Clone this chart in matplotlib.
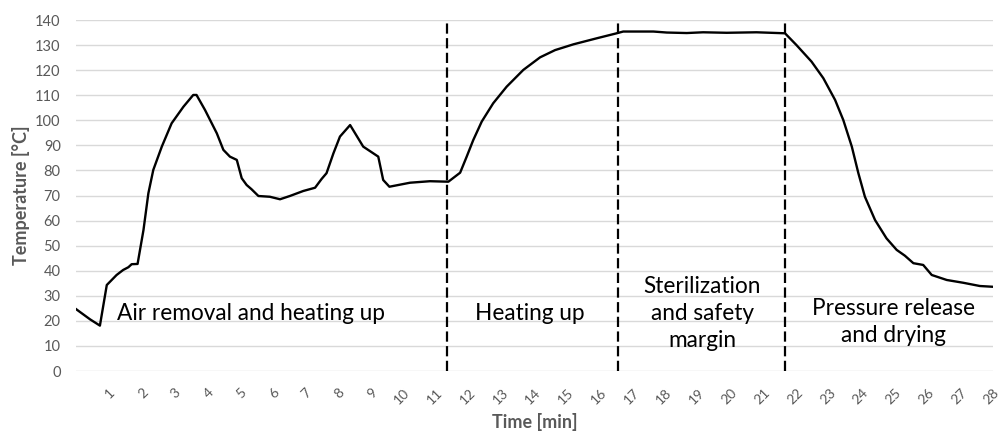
import matplotlib
matplotlib.use("Agg")
import matplotlib.pyplot as plt

plt.rcParams['font.family'] = ['Lato', 'DejaVu Sans']

time_min = [0.0, 0.43, 0.73, 0.94, 1.24, 1.44, 1.60, 1.70, 1.88, 2.06, 2.21, 2.36, 2.62,
            2.92, 3.28, 3.58, 3.68, 3.94, 4.30, 4.50, 4.70, 4.91, 5.06, 5.21, 5.36, 5.57,
            5.92, 6.23, 6.53, 6.94, 7.30, 7.50, 7.65, 7.86, 8.06, 8.37, 8.77, 9.23, 9.38,
            9.57, 10.20, 10.81, 11.37, 11.73, 11.93, 12.13, 12.39, 12.74, 13.15, 13.66,
            14.17, 14.63, 15.19, 15.90, 16.51, 16.71, 17.63, 18.04, 18.65, 19.15, 19.87,
            20.78, 21.65, 22.0, 22.46, 22.82, 23.18, 23.43, 23.69, 23.89, 24.09, 24.40,
            24.75, 25.06, 25.31, 25.57, 25.87, 26.13, 26.59, 27.09, 27.6, 27.99]
temperature = [24.7, 20.6, 18.1, 34.3, 38.3, 40.3, 41.4, 42.6, 42.7, 56.2, 70.9, 80.2, 89.5,
               98.8, 105.4, 110.1, 110.1, 104.1, 94.8, 88.2, 85.5, 84.2, 76.9, 74.2, 72.5, 69.8,
               69.5, 68.5, 69.8, 71.8, 73.1, 76.6, 78.9, 86.8, 93.5, 98.1, 89.5, 85.5, 76.2,
               73.5, 75.1, 75.7, 75.5, 79.1, 85.5, 92.1, 99.5, 106.8, 113.4, 120.1,
               125.1, 128.0, 130.3, 132.7, 134.7, 135.4, 135.4, 135.0, 134.8, 135.1, 134.9,
               135.1, 134.7, 130.0, 123.4, 116.8, 108.1, 100.1, 89.5, 78.9, 69.5, 60.2,
               52.9, 48.3, 46.0, 43.0, 42.3, 38.3, 36.3, 35.2, 33.9, 33.6]

phase_boundaries = [11.34, 16.54, 21.65]
phase_labels = ["Air removal and heating up", "Heating up",
                "Sterilization\nand safety\nmargin", "Pressure release\nand drying"]
phase_label_x = [5.34, 13.86, 19.12, 24.95]
phase_label_y = [23.1, 23.1, 22.9, 19.5]

x_ticks = list(range(1, 29))
y_ticks = list(range(0, 141, 10))

fig = plt.figure(figsize=(10.04, 4.32), dpi=100)
ax = fig.add_axes([0.0757, 0.1412, 0.9133, 0.8125])

ax.set_xlim(0, 28)
ax.set_ylim(0, 140)
ax.set_yticks(y_ticks)
ax.set_xticks(x_ticks)
ax.set_xticklabels([str(t) for t in x_ticks], rotation=45, ha='right', va='top',
                   rotation_mode='anchor', fontsize=10, color='#595959')
ax.set_yticklabels([str(v) for v in y_ticks], fontsize=10.5, color='#595959')
ax.tick_params(axis='both', length=0)
ax.tick_params(axis='x', pad=11)
ax.tick_params(axis='y', pad=11)
ax.grid(axis='y', color='#d9d9d9', linewidth=1)
ax.set_axisbelow(True)
for s in ax.spines.values():
    s.set_visible(False)

ax.plot(time_min, temperature, color='black', linewidth=1.7, solid_joinstyle='round')

for b in phase_boundaries:
    ax.plot([b, b], [0, 139], color='black', linewidth=1.6, linestyle=(0, (4.6, 2.0)))

for lbl, lx, ly in zip(phase_labels, phase_label_x, phase_label_y):
    ax.text(lx, ly, lbl, ha='center', va='center', fontsize=16.3, color='black',
            linespacing=1.35)

ax.set_ylabel("Temperature [°C]", fontsize=13, fontweight='bold', color='#595959')
ax.set_xlabel("Time [min]", fontsize=13, fontweight='bold', color='#595959')
ax.yaxis.set_label_coords(-0.05, 0.5)
ax.xaxis.set_label_coords(0.5, -0.12)

fig.savefig("out.png", dpi=100)
